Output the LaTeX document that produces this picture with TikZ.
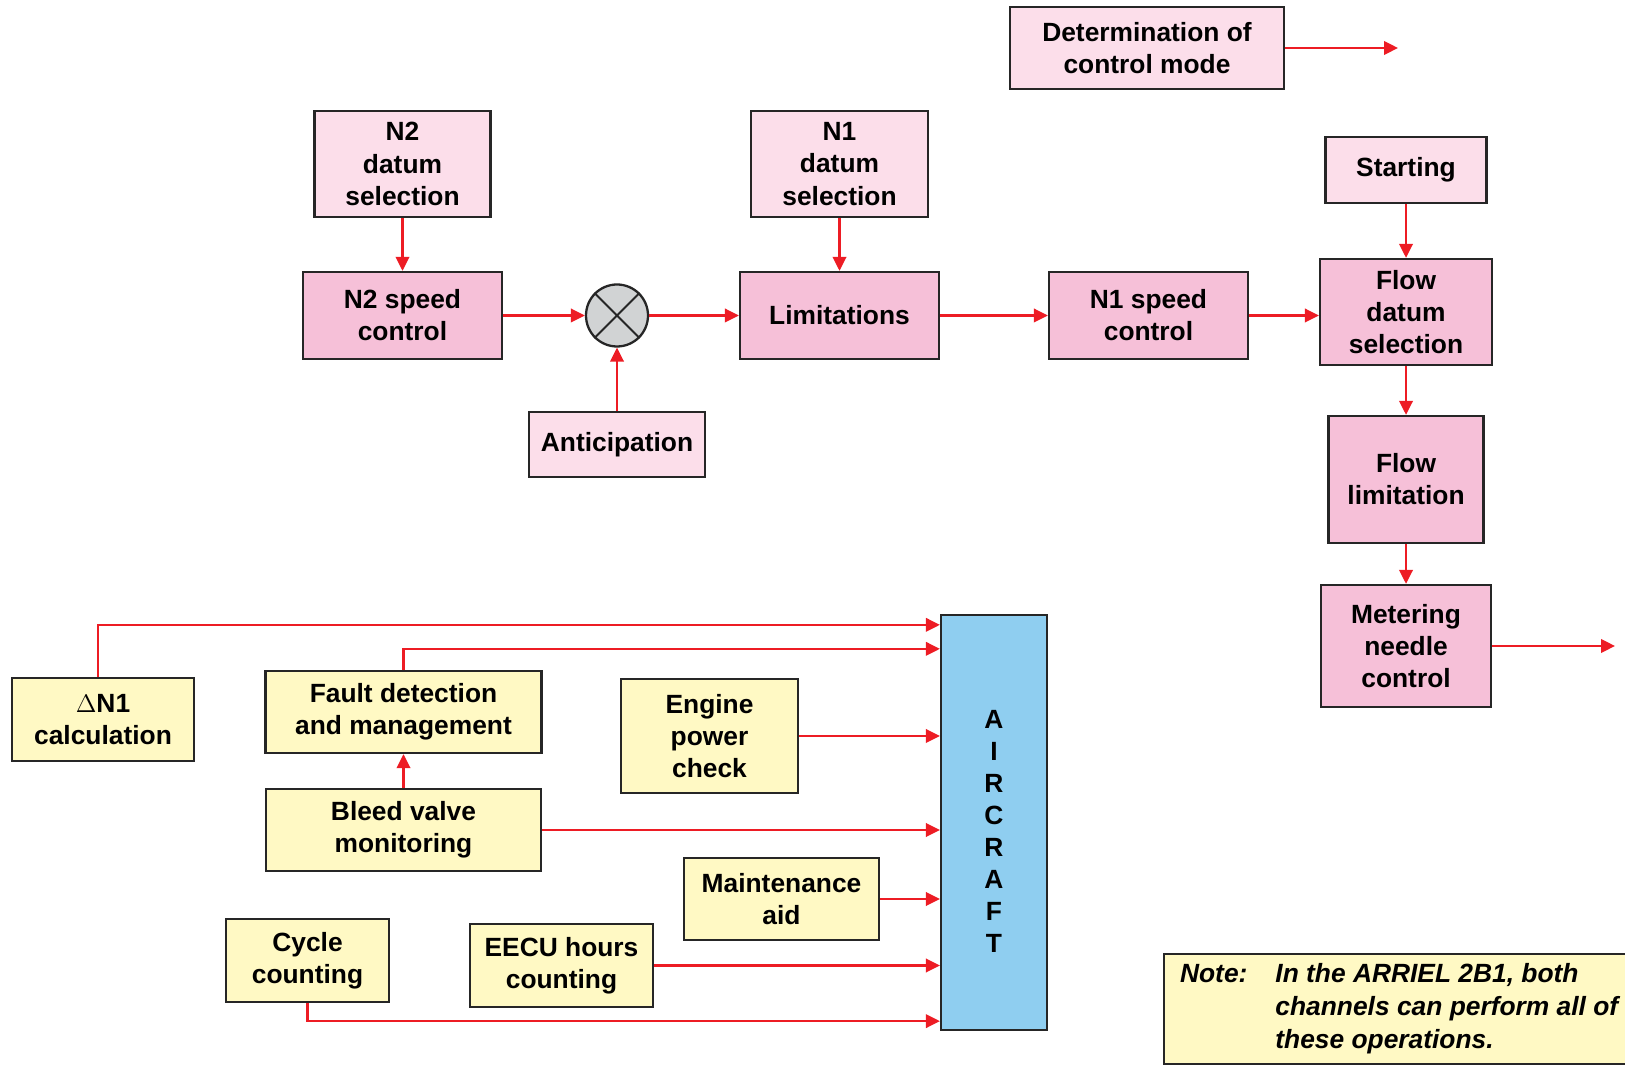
\documentclass[tikz,border=0pt]{standalone}
\usepackage{fontspec}
\setmainfont{Liberation Sans}
\usepackage{tikz}
\usetikzlibrary{arrows.meta}

\definecolor{lightpink}{RGB}{252,222,234}
\definecolor{darkpink}{RGB}{246,192,216}
\definecolor{paleyellow}{RGB}{255,249,196}
\definecolor{skyblue}{RGB}{143,206,240}
\definecolor{linkred}{RGB}{237,28,36}
\definecolor{mixgray}{RGB}{209,211,212}

\begin{document}
\begin{tikzpicture}[
   box/.style={rectangle,draw=black!85,line width=1.3pt,align=center,
    inner sep=+0.1cm,font=\fontsize{15}{18.3}\selectfont\bfseries},
   datum/.style={box,fill=lightpink},
   ctrl/.style={box,fill=darkpink},
   task/.style={box,fill=paleyellow},
   link/.style={draw=linkred,line width=1.3pt,
    -{Triangle[length=0.28cm,width=0.27cm]}}
    ]
  \useasboundingbox (0,0) rectangle (32.5,21.3);

  % -- speed loop
  \node[datum,minimum width=5.48cm,minimum height=1.64cm] at (22.94,20.34) (mode) {Determination of\\control mode};
  \node[datum,minimum width=3.52cm,minimum height=2.12cm] at (8.05,18.02) (n2datum) {N2\\datum\\selection};
  \node[ctrl,minimum width=3.98cm,minimum height=1.74cm] at (8.05,14.99) (n2speed) {N2 speed\\control};
  \node[circle,draw=black!85,line width=1.3pt,fill=mixgray,minimum size=1.24cm] at (12.34,14.99) (mix) {};
  \draw[black!85,line width=1.1pt] (mix.north west) -- (mix.south east)
    (mix.north east) -- (mix.south west);
  \node[datum,minimum width=3.52cm,minimum height=1.30cm] at (12.34,12.41) (antic) {Anticipation};
  \node[datum,minimum width=3.54cm,minimum height=2.12cm] at (16.79,18.02) (n1datum) {N1\\datum\\selection};
  \node[ctrl,minimum width=3.98cm,minimum height=1.74cm] at (16.79,14.99) (limits) {Limitations};
  \node[ctrl,minimum width=3.98cm,minimum height=1.74cm] at (22.97,14.99) (n1speed) {N1 speed\\control};

  % -- fuel flow column
  \node[datum,minimum width=3.22cm,minimum height=1.32cm] at (28.12,17.90) (starting) {Starting};
  \node[ctrl,minimum width=3.44cm,minimum height=2.12cm] at (28.12,15.06) (flowdatum) {Flow\\datum\\selection};
  \node[ctrl,minimum width=3.10cm,minimum height=2.54cm] at (28.12,11.71) (flowlim) {Flow\\limitation};
  \node[ctrl,minimum width=3.40cm,minimum height=2.44cm] at (28.12,8.38) (metering) {Metering\\needle\\control};
  \coordinate (modeout) at (27.96,20.34);
  \coordinate (meterout) at (32.30,8.38);

  \draw[link] (mode) -- (modeout);
  \draw[link] (n2datum) -- (n2speed);
  \draw[link] (n2speed) -- (mix);
  \draw[link] (antic) -- (mix);
  \draw[link] (mix) -- (limits);
  \draw[link] (n1datum) -- (limits);
  \draw[link] (limits) -- (n1speed);
  \draw[link] (n1speed) -- (n1speed -| flowdatum.west);
  \draw[link] (starting) -- (flowdatum);
  \draw[link] (flowdatum) -- (flowlim);
  \draw[link] (flowlim) -- (metering);
  \draw[link] (metering) -- (meterout);

  % -- aircraft interface
  \node[box,fill=skyblue,minimum width=2.12cm,minimum height=8.30cm,
    label={[align=center,yshift=-0.17cm,font=\fontsize{15}{18.2}\selectfont\bfseries]center:A\\I\\R\\C\\R\\A\\F\\T}]
    at (19.88,4.85) (aircraft) {};
  \node[task,minimum width=3.64cm,minimum height=1.66cm] at (2.06,6.91) (dn1) {$\Delta$N1\\calculation};
  \node[task,minimum width=5.52cm,minimum height=1.64cm] at (8.07,7.06) (fault) {Fault detection\\and management};
  \node[task,minimum width=5.50cm,minimum height=1.64cm] at (8.07,4.70) (bleed) {Bleed valve\\monitoring};
  \node[task,minimum width=3.54cm,minimum height=2.28cm] at (14.19,6.58) (engine) {Engine\\power\\check};
  \node[task,minimum width=3.90cm,minimum height=1.64cm] at (15.63,3.32) (maint) {Maintenance\\aid};
  \node[task,minimum width=3.26cm,minimum height=1.66cm] at (6.15,2.09) (cycle) {Cycle\\counting};
  \node[task,minimum width=3.66cm,minimum height=1.66cm] at (11.23,1.99) (eecu) {EECU hours\\counting};

  \draw[link] ([xshift=-0.1cm]dn1.north) |- ([yshift=-0.22cm]aircraft.north west);
  \draw[link] (fault.north) |- ([yshift=-0.70cm]aircraft.north west);
  \draw[link] (bleed) -- (fault);
  \draw[link] (engine) -- (engine -| aircraft.west);
  \draw[link] (bleed) -- (bleed -| aircraft.west);
  \draw[link] (maint) -- (maint -| aircraft.west);
  \draw[link] (eecu) -- (eecu -| aircraft.west);
  \draw[link] (cycle.south) |- ([yshift=0.2cm]aircraft.south west);

  % -- note
  \node[task,anchor=north west,minimum width=9.4cm,minimum height=2.2cm,
    inner xsep=0.28cm,font=\fontsize{15}{18.8}\selectfont\bfseries\itshape]
    at (23.26,2.24) (note) {\begin{tabular}{@{}l@{\hspace{0.56cm}}l@{}}
      Note: & In the ARRIEL 2B1, both\\
            & channels can perform all of\\
            & these operations.
    \end{tabular}};

\end{tikzpicture}
\end{document}
